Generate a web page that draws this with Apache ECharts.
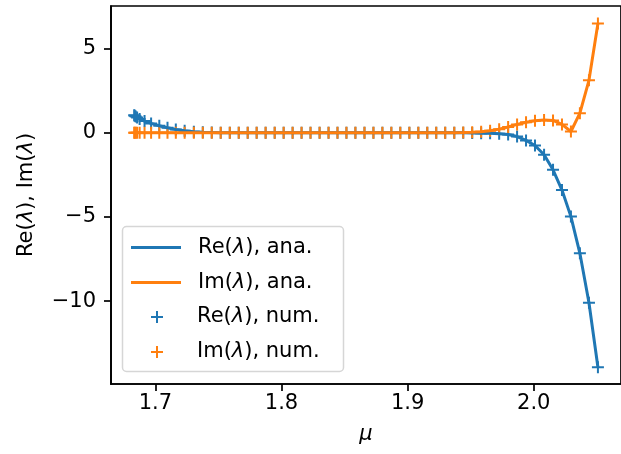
<!DOCTYPE html>
<html>
<head>
<meta charset="utf-8">
<script src="https://cdn.jsdelivr.net/npm/echarts@6/dist/echarts.min.js"></script>
<style>
  html, body { margin: 0; padding: 0; background: #fff; }
  #chart { width: 621px; height: 454px; }
</style>
</head>
<body>
<div id="chart"></div>
<script>
// mu values (x)
const muVals = [
  1.6832, 1.6836, 1.6844, 1.6855, 1.6875, 1.6914, 1.6966, 1.7031, 1.7096, 1.7162, 1.7232,
  1.7305, 1.7376, 1.7447, 1.7518, 1.7590, 1.7661, 1.7732, 1.7803, 1.7874, 1.7946,
  1.8017, 1.8088, 1.8159, 1.8230, 1.8302, 1.8373, 1.8444, 1.8515, 1.8586, 1.8658,
  1.8729, 1.8800, 1.8871, 1.8942, 1.9014, 1.9085, 1.9156, 1.9227, 1.9298, 1.9370,
  1.9441, 1.9512, 1.9583, 1.9654, 1.9726, 1.9797, 1.9868, 1.9939, 2.0010, 2.0082,
  2.0153, 2.0224, 2.0295, 2.0366, 2.0438, 2.0509
];
// Re(lambda)
const reVals = [
  1.05, 1.02, 0.97, 0.91, 0.83, 0.70, 0.56, 0.42, 0.30, 0.20, 0.12,
  0.07, 0.04, 0.02, 0.01, 0, 0, 0, 0, 0, 0,
  0, 0, 0, 0, 0, 0, 0, 0, 0, 0,
  0, 0, 0, 0, 0, 0, 0, 0, 0, 0,
  0, -0.01, -0.02, -0.03, -0.05, -0.1, -0.22, -0.45, -0.75, -1.3,
  -2.2, -3.4, -4.98, -7.16, -10.1, -13.93
];
// Im(lambda)
const imVals = [
  0, 0, 0, 0, 0, 0, 0, 0, 0, 0, 0,
  0, 0, 0, 0, 0, 0, 0, 0, 0, 0,
  0, 0, 0, 0, 0, 0, 0, 0, 0, 0,
  0, 0, 0, 0, 0, 0, 0, 0, 0, 0.01,
  0.02, 0.04, 0.07, 0.12, 0.22, 0.35, 0.5, 0.63, 0.72, 0.77,
  0.74, 0.5, 0.08, 1.17, 3.12, 6.5
];
const xTicks = [1.7, 1.8, 1.9, 2.0];
const yTicks = [-10, -5, 0, 5];

const BLUE = '#1f77b4';
const ORANGE = '#ff7f0e';
const FONT = 'DejaVu Sans';
const FS = 21;
const PLUS = 'path://M6,0 L6,12 M0,6 L12,6';

const pairs = (ys) => muVals.map((m, i) => [m, ys[i]]);
const rich = { i: { fontStyle: 'italic', fontFamily: FONT, fontSize: FS, color: '#000' } };
const lam = (name) => name.replace('λ', '{i|λ}');

const chart = echarts.init(document.getElementById('chart'), null, { renderer: 'canvas' });

const option = {
  animation: false,
  backgroundColor: '#fff',
  textStyle: { fontFamily: FONT },
  grid: {
    left: 111, top: 6, width: 518, height: 378,
    show: true, borderColor: '#000', borderWidth: 1.7, backgroundColor: 'transparent'
  },
  graphic: [{
    type: 'rect', z: 3,
    shape: { x: 122.5, y: 226.5, width: 221, height: 145, r: 4 },
    style: { fill: 'rgba(255,255,255,0.8)', stroke: '#d6d6d6', lineWidth: 1.5 }
  }],
  legend: [{
    left: 131, top: 235.5, orient: 'vertical', padding: 0,
    itemWidth: 50, itemHeight: 3, itemGap: 11, icon: 'rect',
    data: ['Re(λ), ana.', 'Im(λ), ana.'],
    formatter: lam,
    textStyle: { fontSize: FS, color: '#000', fontFamily: FONT, lineHeight: 24, padding: [0, 0, 0, 12], rich: rich }
  }, {
    left: 150, top: 305, orient: 'vertical', padding: 0,
    itemWidth: 12, itemHeight: 12, itemGap: 11, icon: PLUS,
    data: ['Re(λ), num.', 'Im(λ), num.'],
    formatter: lam,
    itemStyle: { borderWidth: 2, opacity: 1 },
    textStyle: { fontSize: FS, color: '#000', fontFamily: FONT, lineHeight: 24, padding: [0, 0, 0, 29], rich: rich }
  }],
  xAxis: {
    type: 'value', min: 1.6648, max: 2.0692,
    name: 'μ', nameLocation: 'middle', nameGap: 40,
    nameTextStyle: { fontSize: FS, fontStyle: 'italic', color: '#000', fontFamily: FONT },
    axisLine: { show: true, onZero: false, lineStyle: { color: '#000', width: 1.7 } },
    axisTick: { show: true, length: 7, customValues: xTicks, lineStyle: { color: '#000', width: 1.7 } },
    axisLabel: { customValues: xTicks, margin: 9, fontSize: FS, color: '#000', fontFamily: FONT,
      formatter: (v) => v.toFixed(1) },
    splitLine: { show: false }
  },
  yAxis: {
    type: 'value', min: -14.93, max: 7.54,
    name: lam('Re(λ), ') + lam('Im(λ)'), nameLocation: 'middle', nameGap: 74, nameRotate: 90,
    nameTextStyle: { fontSize: FS, color: '#000', fontFamily: FONT, rich: rich },
    axisLine: { show: true, onZero: false, lineStyle: { color: '#000', width: 1.7 } },
    axisTick: { show: true, length: 7, customValues: yTicks, lineStyle: { color: '#000', width: 1.7 } },
    axisLabel: { customValues: yTicks, margin: 15, fontSize: FS, color: '#000', fontFamily: FONT,
      formatter: (v) => (v < 0 ? '\u2212' + Math.abs(v) : String(v)) },
    splitLine: { show: false }
  },
  series: [{
    name: 'Re(λ), ana.', type: 'line', data: pairs(reVals), showSymbol: false,
    lineStyle: { color: BLUE, width: 3 }, itemStyle: { color: BLUE }
  }, {
    name: 'Im(λ), ana.', type: 'line', data: pairs(imVals), showSymbol: false,
    lineStyle: { color: ORANGE, width: 3 }, itemStyle: { color: ORANGE }
  }, {
    name: 'Re(λ), num.', type: 'scatter', data: pairs(reVals), symbol: PLUS, symbolSize: 12,
    itemStyle: { color: BLUE, borderColor: BLUE, borderWidth: 2, opacity: 1 }
  }, {
    name: 'Im(λ), num.', type: 'scatter', data: pairs(imVals), symbol: PLUS, symbolSize: 12,
    itemStyle: { color: ORANGE, borderColor: ORANGE, borderWidth: 2, opacity: 1 }
  }]
};

chart.setOption(option);
</script>
</body>
</html>
